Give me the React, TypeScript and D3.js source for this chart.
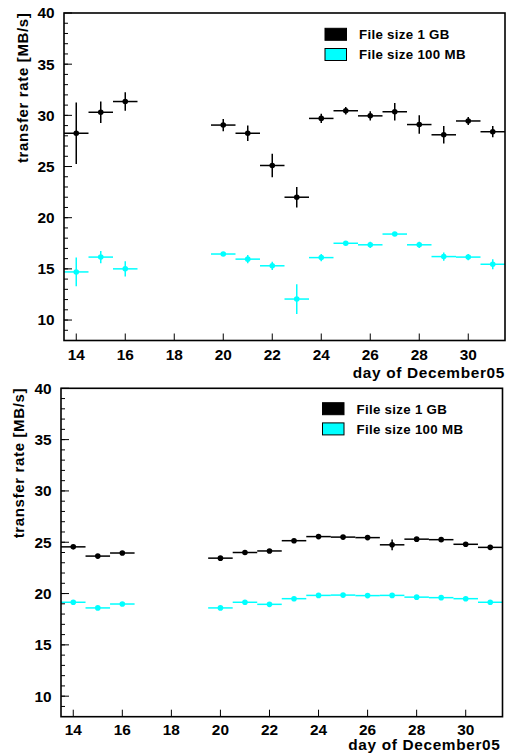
import React from 'react';
import * as d3 from 'd3';

// values
const days = [14, 15, 16, 20, 21, 22, 23, 24, 25, 26, 27, 28, 29, 30, 31];

const topRate1GB = [28.25, 30.3, 31.35, 29.05, 28.25, 25.1, 22.0, 29.7, 30.45, 29.95, 30.35, 29.1, 28.1, 29.45, 28.4];
const topErr1GB = [3.0, 1.05, 0.9, 0.6, 0.75, 1.15, 1.0, 0.45, 0.37, 0.45, 0.85, 0.9, 0.85, 0.4, 0.55];
const topRate100MB = [14.7, 16.15, 15.0, 16.45, 15.95, 15.3, 12.05, 16.1, 17.5, 17.35, 18.4, 17.35, 16.2, 16.15, 15.45];
const topErr100MB = [1.4, 0.6, 0.75, 0.2, 0.4, 0.4, 1.45, 0.35, 0.2, 0.3, 0.15, 0.3, 0.4, 0.3, 0.5];

const bottomRate1GB = [24.55, 23.65, 23.95, 23.45, 24.0, 24.15, 25.15, 25.55, 25.5, 25.45, 24.75, 25.3, 25.25, 24.8, 24.5];
const bottomErr1GB = [0.12, 0.12, 0.12, 0.12, 0.12, 0.12, 0.12, 0.1, 0.1, 0.1, 0.52, 0.1, 0.1, 0.12, 0.12];
const bottomRate100MB = [19.15, 18.6, 18.98, 18.6, 19.15, 18.95, 19.5, 19.82, 19.85, 19.8, 19.82, 19.65, 19.6, 19.5, 19.15];
const bottomErr100MB = [0.1, 0.1, 0.1, 0.1, 0.1, 0.1, 0.1, 0.08, 0.08, 0.08, 0.08, 0.08, 0.08, 0.08, 0.1];

const seriesNames = ['File size 1 GB', 'File size 100 MB'];
const seriesColors = ['#000000', '#00ffff'];

const xTicks = [14, 16, 18, 20, 22, 24, 26, 28, 30];
const yTicks = [10, 15, 20, 25, 30, 35, 40];
const yMinorTicks = d3.range(9, 40);

const xTitle = 'day of December05';
const yTitle = 'transfer rate [MB/s]';

const textStyle = { fontFamily: "'Liberation Sans', Arial, Helvetica, sans-serif", fontWeight: 700 };
const titleStyle = { ...textStyle, letterSpacing: '0.65px' };
const legendStyle = { ...textStyle, letterSpacing: '0.3px' };

type Series = { rate: number[]; err: number[] };

type PanelProps = {
  left: number;
  top: number;
  right: number;
  bottom: number;
  series: Series[];
  legendX: number;
  legendY: number;
  yTitleX: number;
  xLabelDy: number;
  xTitleRight: number;
  xTitleY: number;
};

function Panel(p: PanelProps) {
  const x = d3.scaleLinear().domain([13.5, 31.5]).range([p.left, p.right]);
  const y = d3.scaleLinear().domain([8, 40]).range([p.bottom, p.top]);

  return (
    <g>
      {/* data: error crosses + markers */}
      {p.series.map((s, si) => (
        <g key={si} stroke={seriesColors[si]} fill={seriesColors[si]}>
          {days.map((d, i) => (
            <g key={d}>
              <line x1={x(d - 0.5)} x2={x(d + 0.5)} y1={y(s.rate[i])} y2={y(s.rate[i])} strokeWidth={1.5} />
              <line x1={x(d)} x2={x(d)} y1={y(s.rate[i] - s.err[i])} y2={y(s.rate[i] + s.err[i])} strokeWidth={1.5} />
              <circle cx={x(d)} cy={y(s.rate[i])} r={2.8} stroke="none" />
            </g>
          ))}
        </g>
      ))}

      {/* frame */}
      <rect x={p.left} y={p.top} width={p.right - p.left} height={p.bottom - p.top} fill="none" stroke="#000" strokeWidth={1.6} />

      {/* y ticks */}
      {yMinorTicks.map(v => (
        <line key={'m' + v} x1={p.left} x2={p.left + 4} y1={y(v)} y2={y(v)} stroke="#000" strokeWidth={1} />
      ))}
      {yTicks.map(v => (
        <g key={v}>
          <line x1={p.left} x2={p.left + 8} y1={y(v)} y2={y(v)} stroke="#000" strokeWidth={1} />
          <text x={p.left - 9.5} y={y(v) + 5.4} textAnchor="end" fontSize={15.4} fill="#000" style={textStyle}>{v}</text>
        </g>
      ))}

      {/* x ticks */}
      {xTicks.map(v => (
        <g key={v}>
          <line x1={x(v)} x2={x(v)} y1={p.bottom} y2={p.bottom - 7} stroke="#000" strokeWidth={1} />
          <text x={x(v)} y={p.bottom + p.xLabelDy} textAnchor="middle" fontSize={15.4} fill="#000" style={textStyle}>{v}</text>
        </g>
      ))}

      {/* axis titles */}
      <text x={p.xTitleRight} y={p.xTitleY} textAnchor="end" fontSize={15.4} fill="#000" style={titleStyle}>{xTitle}</text>
      <text
        transform={`translate(${p.yTitleX},${p.top - 0.5}) rotate(-90)`}
        textAnchor="end"
        fontSize={15}
        fill="#000"
        style={titleStyle}
      >
        {yTitle}
      </text>

      {/* legend */}
      {seriesNames.map((name, i) => (
        <g key={name} transform={`translate(${p.legendX},${p.legendY + i * 20.2})`}>
          <rect x={0} y={0} width={21.5} height={12} fill={seriesColors[i]} stroke="#000" strokeWidth={1} />
          <text x={34} y={10.8} fontSize={13.3} fill="#000" style={legendStyle}>{name}</text>
        </g>
      ))}
    </g>
  );
}

export default function App() {
  return (
    <svg
      width={512}
      height={753}
      style={{ position: 'absolute', left: 0, top: 0, background: '#fff' }}
    >
      <rect width={512} height={753} fill="#fff" />
      <Panel
        left={64}
        top={13}
        right={505}
        bottom={340.5}
        series={[
          { rate: topRate1GB, err: topErr1GB },
          { rate: topRate100MB, err: topErr100MB },
        ]}
        legendX={325}
        legendY={28.3}
        yTitleX={27.5}
        xLabelDy={19}
        xTitleRight={505}
        xTitleY={377.5}
      />
      <Panel
        left={61}
        top={388.3}
        right={502.5}
        bottom={716.7}
        series={[
          { rate: bottomRate1GB, err: bottomErr1GB },
          { rate: bottomRate100MB, err: bottomErr100MB },
        ]}
        legendX={322.5}
        legendY={402.7}
        yTitleX={24}
        xLabelDy={18.3}
        xTitleRight={500.5}
        xTitleY={750.3}
      />
    </svg>
  );
}
